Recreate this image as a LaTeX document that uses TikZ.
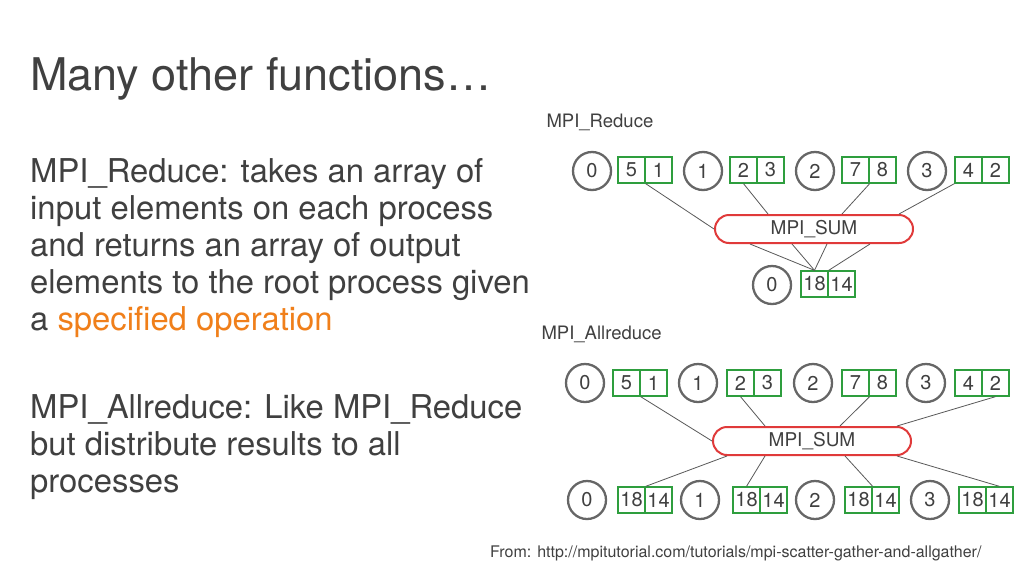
\documentclass[tikz,border=0pt]{standalone}
\usepackage{fontspec}
\setmainfont{TeX Gyre Heros}
\usetikzlibrary{shapes.misc}
\definecolor{txt}{HTML}{404040}
\definecolor{grn}{HTML}{2E9E3E}
\definecolor{rd}{HTML}{E03A3A}
\definecolor{org}{HTML}{F07F1A}
\begin{document}
\begin{tikzpicture}[x=1pt,y=-1pt,
  proc/.style={circle,draw=black!60,line width=2.3pt,minimum size=38pt,inner sep=0pt,font=\fontsize{20}{20}\selectfont,text=txt},
  cell/.style={rectangle,draw=grn,line width=1.3pt,minimum width=27pt,minimum height=26pt,inner sep=0pt,font=\fontsize{20}{20}\selectfont,text=txt},
  op/.style={rounded rectangle,draw=rd,line width=2pt,minimum width=198pt,minimum height=28pt,inner sep=0pt,font=\fontsize{19}{19}\selectfont,text=txt},
  lbl/.style={anchor=west,font=\fontsize{18.5}{18.5}\selectfont,text=txt},
  para/.style={anchor=north west,text=txt,inner sep=0pt,font=\fontsize{32.8}{37}\selectfont,align=left},
  ln/.style={draw=black!65,line width=0.8pt}]
\useasboundingbox (0,0) rectangle (1024,576);
\fill[white] (0,0) rectangle (1024,576);
\node[anchor=base west,text=txt,font=\fontsize{45}{45}\selectfont,inner sep=0pt] (title) at (30,90) {Many other functions…};
\node[para] (p1) at (30,158)
 {MPI\_Reduce: takes an array of\\ input elements on each process\\ and returns an array of output\\ elements to the root process given\\ a \textcolor{org}{specified operation}};
\node[para] (p2) at (30,394)
 {MPI\_Allreduce: Like MPI\_Reduce\\ but distribute results to all\\ processes};
\node[anchor=base west,text=txt,font=\fontsize{16}{16}\selectfont,inner sep=0pt] (src) at (490,557) {From: http://mpitutorial.com/tutorials/mpi-scatter-gather-and-allgather/};
% Reduce
\node[lbl] (rl) at (543,122) {MPI\_Reduce};
\foreach \i/\cx/\bx/\a/\b in {0/592/618/5/1,1/703/730/2/3,2/815/842/7/8,3/927/955/4/2}{
  \node[proc] (rp\i) at (\cx,171) {\i};
  \node[cell] (ra\i) at (\bx+13.5,170) {\a};
  \node[cell] (rb\i) at (\bx+40.5,170) {\b};
}
\node[op] (rop) at (814,229) {MPI\_SUM};
\node[proc] (rq) at (772,285) {0};
\node[cell] (rr1) at (814.5,284) {18};
\node[cell] (rr2) at (841.5,284) {14};
\draw[ln] (ra0.south east) -- (rop.west);
\draw[ln] (ra1.south) -- (rop.north -| 768,0);
\draw[ln] (ra2.south east) -- (rop.north -| 842,0);
\draw[ln] (ra3.south west) -- (rop.north east);
\draw[ln] (rop.south -| 750,0) -- (rr1.north);
\draw[ln] (rop.south -| 792,0) -- (rr1.north);
\draw[ln] (rop.south -| 827,0) -- (rr1.north);
\draw[ln] (rop.south -| 870,0) -- (rr1.north east);
% Allreduce
\node[lbl] (al) at (538,334) {MPI\_Allreduce};
\foreach \i/\cx/\bx/\a/\b in {0/585/613/5/1,1/698/727/2/3,2/813/842/7/8,3/926/955/4/2}{
  \node[proc] (ap\i) at (\cx,383) {\i};
  \node[cell] (aa\i) at (\bx+13.5,383) {\a};
  \node[cell] (ab\i) at (\bx+40.5,383) {\b};
}
\node[op] (aop) at (812,441) {MPI\_SUM};
\foreach \i/\cx/\bx in {0/587/618,1/700/733,2/815/845,3/930/959}{
  \node[proc] (aq\i) at (\cx,500) {\i};
  \node[cell] (ac\i) at (\bx+13.5,500) {18};
  \node[cell] (ad\i) at (\bx+40.5,500) {14};
}
\draw[ln] (aa0.south east) -- (aop.west);
\draw[ln] (aa1.south) -- (aop.north -| 765,0);
\draw[ln] (aa2.south east) -- (aop.north -| 840,0);
\draw[ln] (ab3.south) -- (aop.north east);
\draw[ln] (aop.south west) -- (ac0.north east);
\draw[ln] (aop.south -| 765,0) -- (ac1.north);
\draw[ln] (aop.south -| 845,0) -- (ac2.north east);
\draw[ln] (aop.south east) -- (ad3.north);
\end{tikzpicture}
\end{document}
